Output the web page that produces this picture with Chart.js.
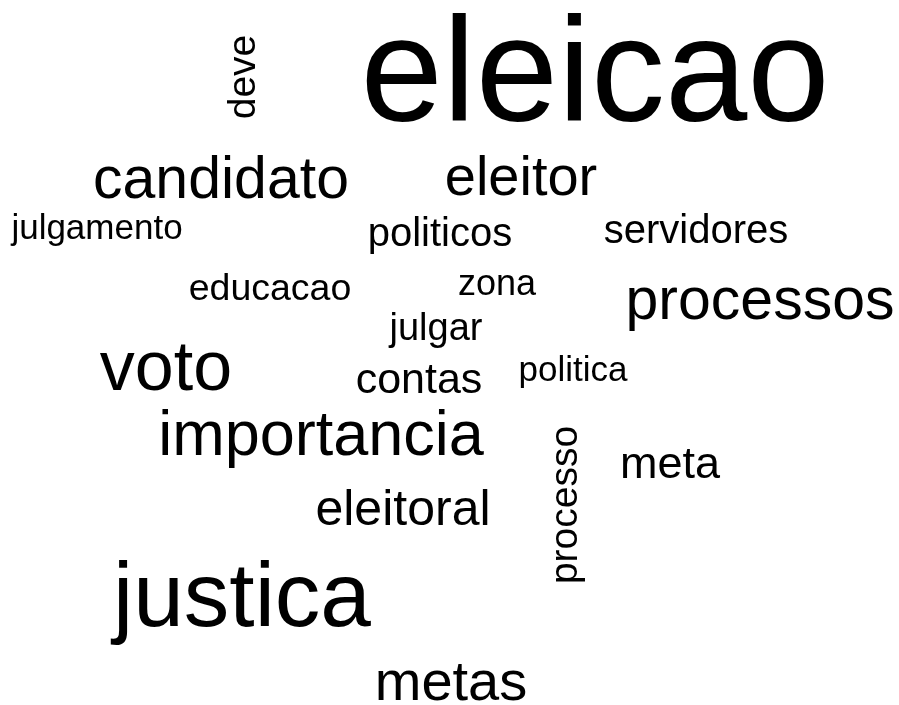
<!DOCTYPE html>
<html>
<head>
<meta charset="utf-8">
<script src="https://cdn.jsdelivr.net/npm/chart.js@4"></script>
<style>
  html, body { margin: 0; padding: 0; background: #fff; }
  #wrap { width: 899px; height: 705px; position: relative; }
</style>
</head>
<body>
<div id="wrap"><canvas id="cloud"></canvas></div>
<script>
// word cloud data (layout space = 899 x 705)
const words = ["eleicao", "deve", "candidato", "eleitor", "julgamento", "politicos",
  "servidores", "educacao", "zona", "processos", "julgar", "voto", "contas",
  "politica", "importancia", "processo", "meta", "eleitoral", "justica", "metas"];
const fontSizes = [148, 39, 59, 56, 35, 40, 40, 37.5, 36, 59, 38, 70, 43, 35, 63, 39, 45, 50, 91, 56];
const xPos = [595, 255, 221, 521, 97, 440, 696, 270, 497, 760, 436, 166, 419, 573, 321, 577, 670, 403, 242, 451];
const yPos = [121, 77, 198, 195, 239, 246, 243, 300, 295, 319, 340, 390, 393, 381, 455, 505, 478, 525, 626, 700];
const rotated = [false, true, false, false, false, false, false, false, false, false,
  false, false, false, false, false, true, false, false, false, false];

const ctx = document.getElementById("cloud");

const wordPlugin = {
  id: "wordText",
  afterDatasetsDraw(chart) {
    const c = chart.ctx;
    const meta = chart.getDatasetMeta(0);
    meta.data.forEach((pt, i) => {
      const d = chart.data.datasets[0].data[i];
      c.save();
      c.fillStyle = "#000";
      c.font = d.size + "px 'Liberation Sans', Arial, sans-serif";
      c.textAlign = "center";
      c.textBaseline = "alphabetic";
      c.translate(pt.x, pt.y);
      if (d.rot) c.rotate(-Math.PI / 2);
      c.fillText(d.word, 0, 0);
      c.restore();
    });
  }
};

new Chart(ctx, {
  type: "scatter",
  data: {
    datasets: [{
      data: words.map((w, i) => ({ x: xPos[i], y: yPos[i], word: w, size: fontSizes[i], rot: rotated[i] })),
      pointRadius: 0,
      pointHoverRadius: 0
    }]
  },
  options: {
    responsive: true,
    maintainAspectRatio: false,
    animation: false,
    layout: { padding: 0 },
    plugins: { legend: { display: false }, tooltip: { enabled: false } },
    scales: {
      x: { display: false, min: 0, max: 899 },
      y: { display: false, min: 0, max: 705, reverse: true }
    }
  },
  plugins: [wordPlugin]
});
</script>
</body>
</html>
